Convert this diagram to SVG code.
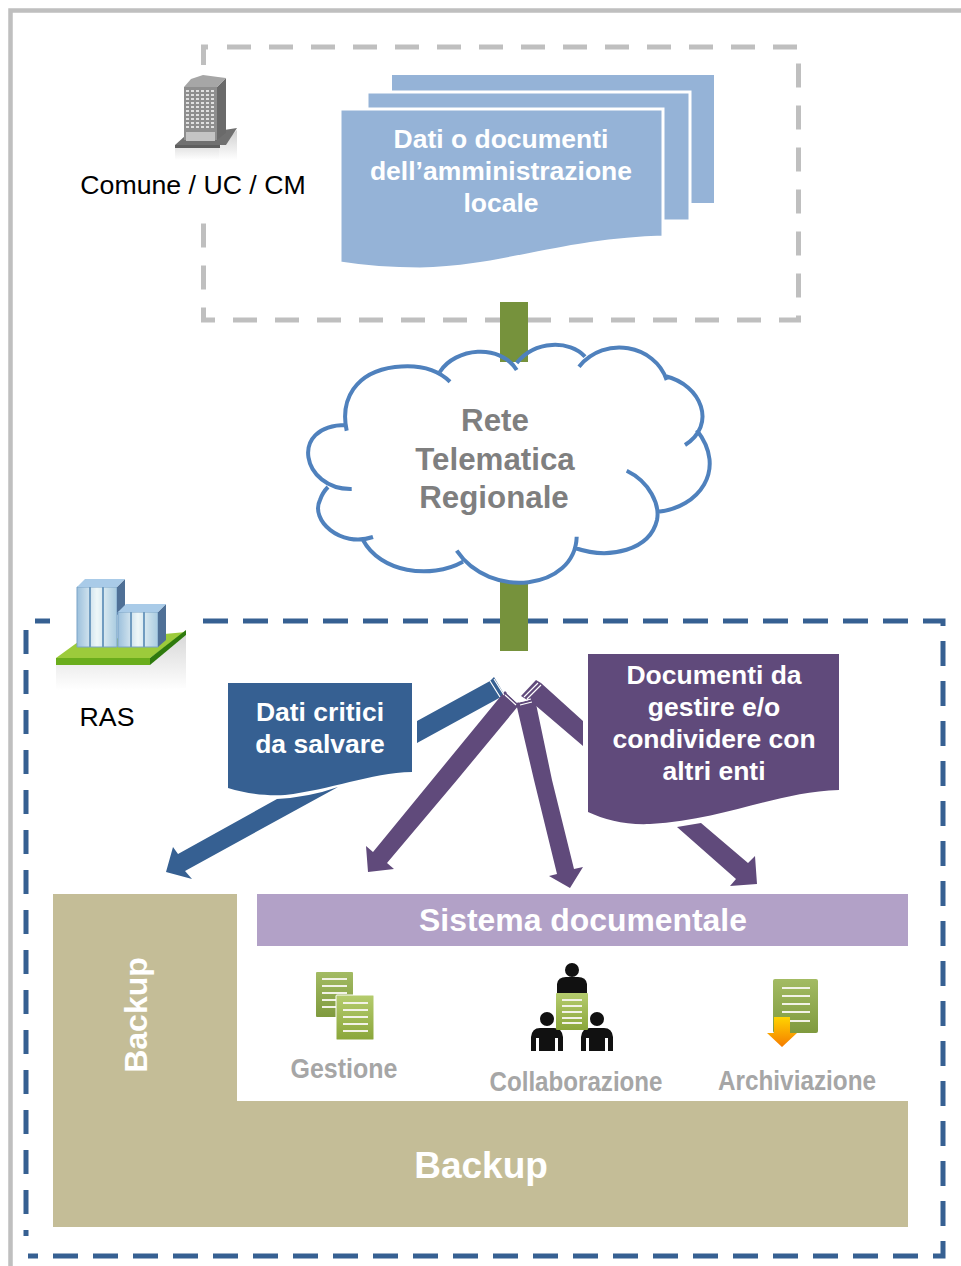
<svg xmlns="http://www.w3.org/2000/svg" width="961" height="1266" viewBox="0 0 961 1266">
<style>
text{font-family:"Liberation Sans",Arial,sans-serif}
.b{font-weight:bold;text-anchor:middle;fill:#fff}
.w{font-weight:bold;text-anchor:middle;fill:#a6a6a6;font-size:27px}
.line{stroke:#f2f2e6;stroke-width:2}
.dl{fill:none;stroke:#bfbfbf;stroke-width:5}
.dr{fill:none;stroke:#366092;stroke-width:5}
.d{font-size:26.500px}
.k{font-size:26.700px;fill:#000;text-anchor:middle}
</style>
<defs>
<linearGradient id="doc" x1="0" y1="0" x2="0" y2="1"><stop offset="0" stop-color="#b5cc6e"/><stop offset="1" stop-color="#8aa63a"/></linearGradient>
<linearGradient id="doc2" x1="0" y1="0" x2="0" y2="1"><stop offset="0" stop-color="#a3bb63"/><stop offset="1" stop-color="#7f9a3e"/></linearGradient>
<linearGradient id="arr" x1="0" y1="0" x2="0" y2="1"><stop offset="0" stop-color="#ffd400"/><stop offset="1" stop-color="#f57c00"/></linearGradient>
<linearGradient id="glass" x1="0" y1="0" x2="1" y2="0"><stop offset="0" stop-color="#9cc0dc"/><stop offset=".5" stop-color="#eef7f8"/><stop offset="1" stop-color="#a9cbe0"/></linearGradient>
<linearGradient id="fade" x1="0" y1="0" x2="0" y2="1"><stop offset="0" stop-color="#cfcfcf"/><stop offset="1" stop-color="#fff"/></linearGradient>
<filter id="soft" x="-5%" y="-5%" width="110%" height="110%"><feGaussianBlur stdDeviation=".5"/></filter>
</defs>

<g id="outer-frame"><path d="M10.500 1266V10.500H961" fill="none" stroke="#bfbfbf" stroke-width="4.500"/></g>
<g id="local-frame">
<path class="dl" d="M227 47H798.500V320H203.500V211" stroke-dasharray="24 18"/>
<path class="dl" d="M203.500 65V47H208"/>
</g>
<g id="ras-frame">
<path class="dr" d="M203 621H943V1256H28" stroke-dasharray="25 15"/>
<path class="dr" d="M26 630V1236" stroke-dasharray="24 16"/>
<path class="dr" d="M35 621H50"/>
</g>

<g id="connectors">
<rect x="500" y="302" width="28" height="60" fill="#76923c"/>
<rect x="500" y="581" width="28" height="70" fill="#76923c"/>
<g fill="#366092">
<polygon points="417,721 490,681 494,677 504,694 501,697 417,743"/>
<path d="M338 787Q310 797 277 799L178 854 173 847 166 872 192 879 185 871Z"/>
</g>
<g fill="#604a7b">
<polygon points="505,691 519,705 457,780 387,863 394,869 368,872 366,846 373,852 432,780"/>
<polygon points="516,703 535,699 552,780 574,869 583,867 570,888 549,876 557,874 534,780"/>
<polygon points="521,696 536,680 541,683 583,721 583,746 535,705"/>
<polygon points="677,827 701,823 748,863 755,856 757,884 730,886 736,879"/>
</g>
<g fill="none" stroke="#fff" stroke-width="1.200">
<path d="M490 681 500 697M494 679 504 695"/>
<path d="M507 693 517 702M505 695 516 705M519 702 531 699M520 705 532 702M524 697 538 683M527 699 541 685"/>
</g>
</g>

<g id="cloud">
<path d="M346 430 345 400 395 367 450 372 516 365 585 352 666 378 700 420 696 460 658 512 640 540 575 548 510 582 456 556 363 540 320 510 325 485 305 460 346 428Z" fill="#fff"/>
<path d="M346.700 430.700C340 400 355 372 395 367C420 364 438 370 450 381.700M440 371.700C455 348 500 343 516.700 370M516.700 363C535 340 570 340 585 356.700M579 366.700C605 335 655 345 666.700 380M665 376C702 385 717 425 685 445M696.700 430C728 470 698 508 658 511.700M626.700 470.700C650 482 660 505 657 520C650 550 610 560 575 548M576.700 536.700C575 590 490 600 456.700 550.700M463 561.700C430 580 380 572 363 540M373 537C340 548 310 520 320 500C322 494 325 490 328 487M351.700 489C302 490 288 425 346 425" fill="none" stroke="#4f81bd" stroke-width="4"/>
<g font-weight="bold" font-size="31.300" fill="#7f7f7f" text-anchor="middle">
<text x="495" y="431">Rete</text>
<text x="495" y="470">Telematica</text>
<text x="494" y="508">Regionale</text>
</g>
</g>

<g id="local-docs">
<path d="M392 75H714V203H392Z" fill="#95b3d7"/>
<path d="M367 92H690V221H367Z" fill="#95b3d7" stroke="#fff" stroke-width="3"/>
<path d="M340 109H663V237C560 240 500 268 420 269C390 269 365 267 340 263Z" fill="#95b3d7" stroke="#fff" stroke-width="3"/>
<text class="b d" x="501" y="148">Dati o documenti</text>
<text class="b d" x="501" y="180">dell’amministrazione</text>
<text class="b d" x="501" y="212">locale</text>
</g>

<g id="comune">
<g filter="url(#soft)">
<polygon points="175,147 219,147 219,160 175,160" fill="url(#fade)" opacity=".6"/>
<polygon points="219,147 237,130 237,160 219,160" fill="url(#fade)"/>
<polygon points="175,145 185,136 237,128 226,145" fill="#707070"/>
<rect x="175" y="145" width="45" height="3" fill="#5f5f5f"/>
<polygon points="184,87 217,87 217,140 184,140" fill="#8e8e8e"/>
<polygon points="217,87 226,78 226,133 217,140" fill="#6b6b6b"/>
<polygon points="184,87 191,79 203,75 218,77 226,78 217,87" fill="#a6a6a6"/>
<path d="M186 91H215M186 95H215M186 99H215M186 103H215M186 107H215M186 111H215M186 115H215M186 119H215M186 123H215M186 127H215" stroke="#e0e0e0" stroke-width="2.200" stroke-dasharray="3 2"/>
<rect x="186" y="132" width="29" height="9" fill="#c4c4c4"/>
</g>
<text class="k" x="193" y="194">Comune / UC / CM</text>
</g>

<g id="ras">
<g filter="url(#soft)">
<polygon points="56,665 150,665 186,635 186,688 150,690 56,690" fill="url(#fade)" opacity=".8"/>
<polygon points="56,658 78,642 186,632 150,658" fill="#9ccb3b"/>
<polygon points="56,658 150,658 150,665 56,665" fill="#6aad1c"/>
<polygon points="150,665 186,635 186,630 150,658" fill="#2f7a10"/>
<polygon points="77,587 117,587 117,647 77,647" fill="url(#glass)" stroke="#7ba4c8"/>
<polygon points="117,587 125,579 125,610 117,615" fill="#4f6f96"/>
<polygon points="77,587 85,579 125,579 117,587" fill="#a9cbe8"/>
<path d="M90 587V647M103 587V647" stroke="#6f9cc0" stroke-width="2"/>
<polygon points="118,612 158,612 158,647 118,647" fill="url(#glass)" stroke="#7ba4c8"/>
<polygon points="158,612 166,604 166,640 158,647" fill="#4f6f96"/>
<polygon points="118,612 126,604 166,604 158,612" fill="#a9cbe8"/>
<path d="M131 612V647M144 612V647" stroke="#6f9cc0" stroke-width="2"/>
</g>
<text class="k" x="107" y="726">RAS</text>
</g>

<g id="doc-backup">
<path d="M228 683H412V772C370 773 330 790 285 795C262 796 245 793 228 788Z" fill="#366092"/>
<text class="b d" x="320" y="721">Dati critici</text>
<text class="b d" x="320" y="753">da salvare</text>
</g>

<g id="doc-share">
<path d="M588 654H839V790C775 792 725 820 650 824C625 825 605 820 588 812Z" fill="#604a7b"/>
<text class="b d" x="714" y="684">Documenti da</text>
<text class="b d" x="714" y="716">gestire e/o</text>
<text class="b d" x="714" y="748">condividere con</text>
<text class="b d" x="714" y="780">altri enti</text>
</g>

<g id="backup">
<polygon points="53,894 237,894 237,1101 908,1101 908,1227 53,1227" fill="#c4bd97"/>
<text class="b" transform="translate(147 1015) rotate(-90)" font-size="32">Backup</text>
<text class="b" x="481" y="1178" font-size="37">Backup</text>
</g>

<g id="sistema">
<rect x="257" y="894" width="651" height="52" fill="#b2a1c7"/>
<text class="b" x="583" y="931" font-size="31.900">Sistema documentale</text>
</g>

<g id="gestione">
<rect x="316" y="972" width="37" height="45" rx="1" fill="url(#doc2)"/>
<path class="line" d="M322 979H347M322 986H347M322 993H347M322 1000H340M322 1007H340"/>
<rect x="336" y="995" width="38" height="45" rx="1" fill="url(#doc)" stroke="#fff"/>
<path class="line" d="M343 1003H368M343 1010H368M343 1017H368M343 1024H368M343 1031H368"/>
<text class="w" x="344" y="1078" textLength="107" lengthAdjust="spacingAndGlyphs">Gestione</text>
</g>

<g id="collaborazione">
<g fill="#111">
<circle cx="572" cy="970" r="7"/><path d="M557 993V984Q558 977 566 977H578Q586 977 587 984V993Z"/>
<circle cx="547" cy="1019" r="7"/><path d="M531 1051V1037Q532 1028 540 1028H554Q562 1028 563 1037V1051H558V1038H555V1051H539V1038H536V1051Z"/>
<circle cx="597" cy="1019" r="7"/><path d="M581 1051V1037Q582 1028 590 1028H604Q612 1028 613 1037V1051H608V1038H605V1051H589V1038H586V1051Z"/>
</g>
<rect x="556" y="993" width="32" height="37" rx="1" fill="url(#doc)"/>
<path class="line" d="M562 1000H582M562 1006H582M562 1012H582M562 1018H582M562 1023H582" stroke-width="1.800"/>
<text class="w" x="576" y="1091" textLength="173" lengthAdjust="spacingAndGlyphs">Collaborazione</text>
</g>

<g id="archiviazione">
<rect x="773" y="979" width="45" height="54" rx="2" fill="url(#doc2)"/>
<path class="line" d="M782 988H810M782 996H810M782 1004H810M782 1012H810M782 1021H810" stroke-width="2.500"/>
<polygon points="774,1017 790,1017 790,1033 797,1033 782,1047 767,1033 774,1033" fill="url(#arr)"/>
<text class="w" x="797" y="1090" textLength="158" lengthAdjust="spacingAndGlyphs">Archiviazione</text>
</g>
</svg>
